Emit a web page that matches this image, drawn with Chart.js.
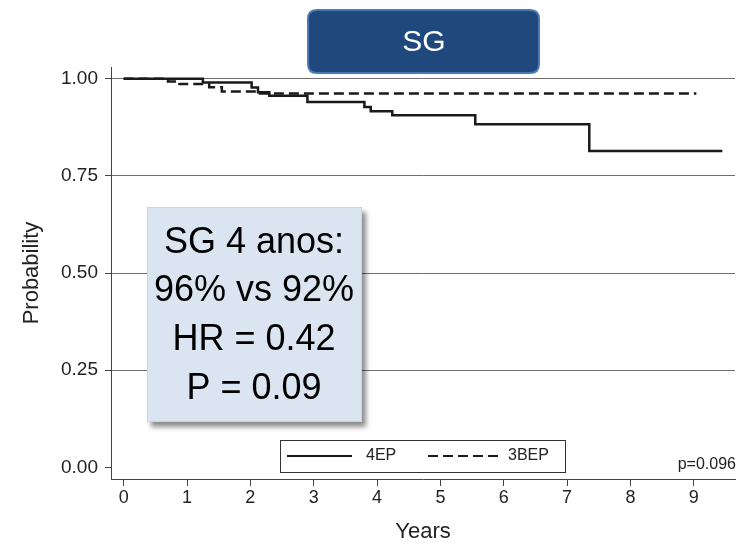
<!DOCTYPE html>
<html>
<head>
<meta charset="utf-8">
<script src="https://cdn.jsdelivr.net/npm/chart.js@4"></script>
<style>
  body { margin: 0; background: #fff; }
  canvas { display: block; }
</style>
</head>
<body>
<canvas id="km" width="740" height="546"></canvas>
<script>
// Kaplan-Meier steps
const years4EP = [0, 1.25, 2.02, 2.12, 2.3, 2.9, 3.8, 3.9, 4.24, 5.55, 7.35, 9.45];
const surv4EP = [1.0, 0.990, 0.977, 0.965, 0.956, 0.940, 0.927, 0.916, 0.906, 0.883, 0.814, 0.814];
const years3BEP = [0, 0.7, 0.88, 1.35, 1.55, 2.15, 9.04];
const surv3BEP = [1.0, 0.993, 0.986, 0.978, 0.967, 0.962, 0.962];

const xTicks = [0, 1, 2, 3, 4, 5, 6, 7, 8, 9];
const yTicks = [0, 0.25, 0.5, 0.75, 1];

const seriesLabels = ['4EP', '3BEP'];
const panelTitle = 'SG';
const noteLines = ['SG 4 anos:', '96% vs 92%', 'HR = 0.42', 'P = 0.09'];
const pValueText = 'p=0.096';

const FONT = '"Liberation Sans", Arial, sans-serif';

function toPoints(xs, ys) {
  return xs.map((x, i) => ({ x: x, y: ys[i] }));
}

function roundRect(ctx, x, y, w, h, r) {
  ctx.beginPath();
  ctx.moveTo(x + r, y);
  ctx.lineTo(x + w - r, y);
  ctx.quadraticCurveTo(x + w, y, x + w, y + r);
  ctx.lineTo(x + w, y + h - r);
  ctx.quadraticCurveTo(x + w, y + h, x + w - r, y + h);
  ctx.lineTo(x + r, y + h);
  ctx.quadraticCurveTo(x, y + h, x, y + h - r);
  ctx.lineTo(x, y + r);
  ctx.quadraticCurveTo(x, y, x + r, y);
  ctx.closePath();
}

const extras = {
  id: 'extras',
  afterDraw(chart) {
    const ctx = chart.ctx;
    ctx.save();

    // title box
    roundRect(ctx, 308, 10, 231, 63, 9);
    ctx.fillStyle = '#1f497d';
    ctx.fill();
    ctx.lineWidth = 2;
    ctx.strokeStyle = '#4a7ab4';
    ctx.stroke();
    ctx.fillStyle = '#ffffff';
    ctx.font = '30px ' + FONT;
    ctx.textAlign = 'center';
    ctx.textBaseline = 'middle';
    ctx.fillText(panelTitle, 424, 43);

    // note box with shadow
    ctx.save();
    ctx.shadowColor = 'rgba(0,0,0,0.45)';
    ctx.shadowOffsetX = 4;
    ctx.shadowOffsetY = 5;
    ctx.shadowBlur = 5;
    ctx.fillStyle = '#dbe5f1';
    ctx.fillRect(147, 207, 215, 215);
    ctx.restore();
    ctx.lineWidth = 1;
    ctx.strokeStyle = '#c9d6e8';
    ctx.strokeRect(147.5, 207.5, 214, 214);
    ctx.fillStyle = '#000000';
    ctx.font = '36px ' + FONT;
    const lineY = [243, 291, 340, 389];
    noteLines.forEach((t, i) => ctx.fillText(t, 254, lineY[i]));

    // legend box
    ctx.fillStyle = '#ffffff';
    ctx.fillRect(280, 440, 285, 32);
    ctx.strokeStyle = '#333333';
    ctx.lineWidth = 1;
    ctx.strokeRect(280.5, 440.5, 285, 32);
    const ds = chart.data.datasets;
    const items = [
      { x0: 287, x1: 352, tx: 366 },
      { x0: 428, x1: 502, tx: 508 }
    ];
    ctx.font = '16px ' + FONT;
    ctx.textAlign = 'left';
    items.forEach((it, i) => {
      ctx.beginPath();
      ctx.setLineDash(ds[i].borderDash || []);
      ctx.lineWidth = 2;
      ctx.strokeStyle = ds[i].borderColor;
      ctx.moveTo(it.x0, 456);
      ctx.lineTo(it.x1, 456);
      ctx.stroke();
      ctx.setLineDash([]);
      ctx.fillStyle = '#222222';
      ctx.fillText(ds[i].label, it.tx, 456);
    });

    // p value
    ctx.textAlign = 'right';
    ctx.fillStyle = '#222222';
    ctx.fillText(pValueText, 736, 465);

    ctx.restore();
  }
};

new Chart(document.getElementById('km'), {
  type: 'line',
  data: {
    datasets: [
      {
        label: seriesLabels[0],
        data: toPoints(years4EP, surv4EP),
        stepped: true,
        borderColor: '#1a1a1a',
        borderWidth: 2.5,
        pointRadius: 0,
        fill: false
      },
      {
        label: seriesLabels[1],
        data: toPoints(years3BEP, surv3BEP),
        stepped: true,
        borderColor: '#1a1a1a',
        borderWidth: 2.5,
        borderDash: [10, 5],
        pointRadius: 0,
        fill: false
      }
    ]
  },
  options: {
    responsive: false,
    animation: false,
    layout: { padding: { top: 67, right: 5, left: 0, bottom: 0 } },
    plugins: {
      legend: { display: false },
      tooltip: { enabled: false }
    },
    scales: {
      x: {
        type: 'linear',
        min: -0.2,
        max: 9.65,
        afterBuildTicks: (scale) => { scale.ticks = xTicks.map(v => ({ value: v })); },
        afterFit: (scale) => { scale.height = 67; },
        grid: {
          drawOnChartArea: false,
          drawTicks: true,
          tickLength: 7,
          tickColor: '#444444'
        },
        border: { display: true, color: '#444444', width: 1 },
        ticks: {
          padding: 1,
          color: '#222222',
          font: { family: FONT, size: 18 },
          callback: (v) => String(v)
        },
        title: {
          display: true,
          text: 'Years',
          color: '#222222',
          font: { family: FONT, size: 22 },
          padding: { top: 0, bottom: 1 }
        }
      },
      y: {
        type: 'linear',
        min: -0.03,
        max: 1.03,
        afterBuildTicks: (scale) => { scale.ticks = yTicks.map(v => ({ value: v })); },
        afterFit: (scale) => { scale.width = 111; },
        grid: {
          color: (c) => (c.tick && c.tick.value === 0 ? 'rgba(0,0,0,0)' : '#6e6e6e'),
          tickColor: '#444444',
          tickLength: 6,
          lineWidth: 1
        },
        border: { display: true, color: '#444444', width: 1 },
        ticks: {
          padding: 7,
          color: '#222222',
          font: { family: FONT, size: 19 },
          callback: (v) => Number(v).toFixed(2)
        },
        title: {
          display: true,
          text: 'Probability',
          color: '#222222',
          font: { family: FONT, size: 22 },
          padding: { top: 19, bottom: 0 }
        }
      }
    }
  },
  plugins: [extras]
});
</script>
</body>
</html>
